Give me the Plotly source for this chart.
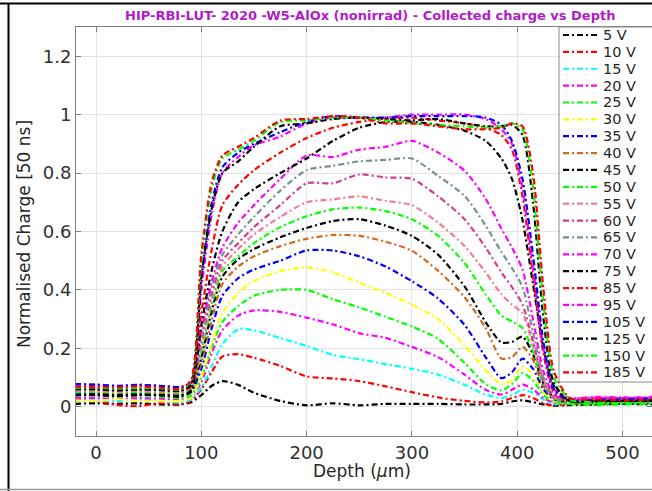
import plotly.graph_objects as go

# Depth positions (um) at which the collected charge was sampled
depth = [-20, 0, 20, 40, 60, 80, 90, 100, 110, 120, 135, 150, 175, 200, 225, 250,
         275, 300, 325, 350, 370, 385, 395, 405, 415, 425, 435, 450, 475, 500, 530]

# Normalised collected charge per bias voltage
q_5V = [0.010, 0.012, 0.010, 0.012, 0.008, 0.008, 0.015, 0.040, 0.072, 0.088, 0.075, 0.048, 0.020, 0.005, 0.012, 0.005,
        0.010, 0.010, 0.010, 0.008, 0.008, 0.010, 0.018, 0.022, 0.016, 0.008, 0.004, 0.006, 0.008, 0.010, 0.008]
q_10V = [0.025, 0.020, 0.006, 0.002, 0.012, 0.010, 0.020, 0.060, 0.120, 0.172, 0.180, 0.168, 0.140, 0.104, 0.097, 0.088,
         0.070, 0.050, 0.032, 0.020, 0.015, 0.018, 0.030, 0.040, 0.030, 0.012, 0.005, 0.010, 0.012, 0.015, 0.012]
q_15V = [0.020, 0.022, 0.020, 0.025, 0.020, 0.015, 0.025, 0.065, 0.140, 0.215, 0.265, 0.262, 0.235, 0.208, 0.178, 0.163,
         0.146, 0.130, 0.110, 0.075, 0.042, 0.030, 0.040, 0.058, 0.048, 0.025, 0.010, 0.012, 0.015, 0.016, 0.015]
q_20V = [0.030, 0.030, 0.026, 0.030, 0.028, 0.025, 0.032, 0.085, 0.185, 0.262, 0.312, 0.330, 0.325, 0.305, 0.282, 0.252,
         0.236, 0.205, 0.170, 0.110, 0.058, 0.042, 0.058, 0.076, 0.060, 0.030, 0.014, 0.018, 0.024, 0.026, 0.024]
q_25V = [0.040, 0.040, 0.035, 0.040, 0.035, 0.030, 0.038, 0.100, 0.205, 0.290, 0.345, 0.380, 0.400, 0.400, 0.368, 0.340,
         0.308, 0.275, 0.232, 0.150, 0.078, 0.056, 0.078, 0.115, 0.090, 0.040, 0.016, 0.010, 0.006, 0.008, 0.012]
q_30V = [0.022, 0.020, 0.026, 0.020, 0.020, 0.020, 0.030, 0.100, 0.220, 0.320, 0.390, 0.430, 0.465, 0.477, 0.460, 0.425,
         0.390, 0.350, 0.300, 0.210, 0.125, 0.078, 0.092, 0.138, 0.110, 0.050, 0.020, 0.015, 0.016, 0.020, 0.020]
q_35V = [0.045, 0.046, 0.040, 0.045, 0.042, 0.040, 0.050, 0.130, 0.270, 0.380, 0.440, 0.470, 0.500, 0.535, 0.535, 0.515,
         0.480, 0.430, 0.370, 0.280, 0.170, 0.098, 0.118, 0.165, 0.130, 0.060, 0.025, 0.020, 0.020, 0.022, 0.025]
q_40V = [0.050, 0.050, 0.046, 0.050, 0.046, 0.045, 0.056, 0.150, 0.300, 0.420, 0.480, 0.515, 0.550, 0.575, 0.588, 0.585,
         0.565, 0.534, 0.465, 0.375, 0.270, 0.165, 0.170, 0.205, 0.160, 0.070, 0.028, 0.022, 0.026, 0.030, 0.028]
q_45V = [0.040, 0.040, 0.036, 0.040, 0.040, 0.035, 0.050, 0.170, 0.330, 0.445, 0.505, 0.540, 0.580, 0.612, 0.636, 0.642,
         0.620, 0.585, 0.520, 0.412, 0.290, 0.220, 0.222, 0.240, 0.180, 0.080, 0.030, 0.015, 0.020, 0.020, 0.020]
q_50V = [0.050, 0.052, 0.048, 0.050, 0.050, 0.045, 0.060, 0.190, 0.350, 0.465, 0.515, 0.560, 0.615, 0.652, 0.676, 0.682,
         0.670, 0.642, 0.585, 0.492, 0.385, 0.312, 0.292, 0.270, 0.190, 0.080, 0.030, 0.012, 0.010, 0.014, 0.018]
q_55V = [0.055, 0.055, 0.050, 0.055, 0.052, 0.050, 0.062, 0.210, 0.370, 0.480, 0.540, 0.590, 0.650, 0.700, 0.710, 0.720,
         0.705, 0.690, 0.630, 0.550, 0.460, 0.385, 0.350, 0.320, 0.210, 0.085, 0.030, 0.020, 0.025, 0.025, 0.025]
q_60V = [0.060, 0.060, 0.056, 0.060, 0.058, 0.055, 0.066, 0.225, 0.390, 0.500, 0.560, 0.615, 0.690, 0.765, 0.765, 0.795,
         0.785, 0.780, 0.720, 0.642, 0.545, 0.460, 0.410, 0.350, 0.225, 0.090, 0.032, 0.022, 0.025, 0.028, 0.030]
q_65V = [0.058, 0.060, 0.055, 0.058, 0.058, 0.052, 0.066, 0.240, 0.410, 0.520, 0.590, 0.650, 0.740, 0.810, 0.825, 0.840,
         0.845, 0.850, 0.790, 0.722, 0.620, 0.530, 0.475, 0.410, 0.255, 0.100, 0.035, 0.022, 0.025, 0.028, 0.030]
q_70V = [0.065, 0.066, 0.060, 0.065, 0.064, 0.060, 0.072, 0.260, 0.430, 0.545, 0.630, 0.690, 0.780, 0.860, 0.855, 0.880,
         0.890, 0.910, 0.870, 0.808, 0.712, 0.610, 0.545, 0.470, 0.300, 0.120, 0.040, 0.028, 0.034, 0.032, 0.030]
q_75V = [0.040, 0.042, 0.040, 0.042, 0.040, 0.038, 0.055, 0.280, 0.470, 0.600, 0.700, 0.745, 0.800, 0.850, 0.910, 0.955,
         0.975, 0.975, 0.965, 0.945, 0.910, 0.850, 0.780, 0.640, 0.420, 0.200, 0.070, 0.020, 0.020, 0.022, 0.020]
q_85V = [0.060, 0.062, 0.058, 0.060, 0.060, 0.055, 0.070, 0.320, 0.540, 0.690, 0.760, 0.810, 0.870, 0.920, 0.955, 0.975,
         0.985, 0.990, 0.980, 0.970, 0.955, 0.930, 0.880, 0.720, 0.450, 0.180, 0.050, 0.020, 0.020, 0.025, 0.025]
q_95V = [0.075, 0.075, 0.070, 0.075, 0.072, 0.068, 0.080, 0.400, 0.660, 0.800, 0.855, 0.895, 0.925, 0.970, 0.990, 0.988,
         0.990, 1.000, 1.000, 1.000, 0.985, 0.950, 0.900, 0.750, 0.480, 0.200, 0.060, 0.030, 0.032, 0.030, 0.034]
q_105V = [0.078, 0.076, 0.072, 0.075, 0.072, 0.068, 0.082, 0.440, 0.700, 0.820, 0.870, 0.900, 0.940, 0.975, 0.995, 0.990,
          0.990, 0.995, 0.995, 0.995, 0.990, 0.965, 0.910, 0.780, 0.520, 0.220, 0.060, 0.022, 0.025, 0.025, 0.028]
q_125V = [0.060, 0.060, 0.056, 0.060, 0.058, 0.055, 0.075, 0.440, 0.680, 0.800, 0.840, 0.890, 0.960, 0.970, 0.985, 0.990,
          0.985, 0.980, 0.985, 0.970, 0.960, 0.960, 0.965, 0.930, 0.700, 0.300, 0.080, 0.020, 0.018, 0.020, 0.022]
q_150V = [0.065, 0.066, 0.062, 0.065, 0.064, 0.060, 0.085, 0.500, 0.750, 0.850, 0.880, 0.910, 0.975, 0.980, 0.990, 0.990,
          0.980, 0.970, 0.965, 0.960, 0.955, 0.960, 0.970, 0.950, 0.750, 0.350, 0.100, 0.025, 0.015, 0.012, 0.010]
q_185V = [0.068, 0.068, 0.066, 0.070, 0.066, 0.062, 0.090, 0.520, 0.770, 0.860, 0.890, 0.920, 0.980, 0.985, 0.995, 0.990,
          0.970, 0.970, 0.960, 0.950, 0.950, 0.955, 0.970, 0.960, 0.800, 0.400, 0.120, 0.030, 0.026, 0.022, 0.025]

labels = ["5 V", "10 V", "15 V", "20 V", "25 V", "30 V", "35 V", "40 V", "45 V", "50 V", "55 V",
          "60 V", "65 V", "70 V", "75 V", "85 V", "95 V", "105 V", "125 V", "150 V", "185 V"]
colors = ["#000000", "#FF0000", "#00FFFF", "#FF00FF", "#00FF00", "#FFFF00", "#0000FF", "#D2691E",
          "#000000", "#00FF00", "#EE7D95", "#D63E8A", "#7A9090", "#FF00FF", "#000000", "#FF0000",
          "#FF00FF", "#0000FF", "#000000", "#00FF00", "#FF0000"]
series = [q_5V, q_10V, q_15V, q_20V, q_25V, q_30V, q_35V, q_40V, q_45V, q_50V, q_55V,
          q_60V, q_65V, q_70V, q_75V, q_85V, q_95V, q_105V, q_125V, q_150V, q_185V]

x_ticks = [0, 100, 200, 300, 400, 500]
y_ticks = [0, 0.2, 0.4, 0.6, 0.8, 1.0, 1.2]
y_tick_text = ["0", "0.2", "0.4", "0.6", "0.8", "1", "1.2"]

DASH = "6px,3px,2px,3px"
FONT = "DejaVu Sans"

# plot-area geometry in pixels
W, H = 652, 491
L, R, T, B = 76, 0, 27, 55
PW, PH = W - L - R, H - T - B


def px(xp):
    return (xp - L) / PW


def py(yp):
    return (H - B - yp) / PH


fig = go.Figure()
for name, col, vals in zip(labels, colors, series):
    fig.add_trace(go.Scatter(
        x=depth, y=vals, name=name, mode="lines",
        line=dict(color=col, width=2.2, dash=DASH, shape="spline", smoothing=0.7),
        showlegend=False,
    ))

shapes = []
annotations = []

# legend box and entries
shapes.append(dict(type="rect", xref="paper", yref="paper",
                   x0=px(559), x1=px(700), y0=py(382), y1=py(27),
                   fillcolor="white", line=dict(color="#8a8a8a", width=1), layer="above"))
step = 16.87
for i, (name, col) in enumerate(zip(labels, colors)):
    yy = py(35 + step * i)
    shapes.append(dict(type="line", xref="paper", yref="paper",
                       x0=px(563), x1=px(600), y0=yy, y1=yy,
                       line=dict(color=col, width=2.2, dash=DASH), layer="above"))
    annotations.append(dict(text=name, xref="paper", yref="paper", x=px(602), y=yy,
                            xanchor="left", yanchor="middle", showarrow=False, borderpad=0,
                            font=dict(family=FONT, size=14.5, color="#262626")))

# axis titles
annotations.append(dict(text="Normalised Charge [50 ns]", xref="paper", yref="paper",
                        x=px(24), y=py(234), textangle=-90, showarrow=False,
                        xanchor="center", yanchor="middle",
                        font=dict(family=FONT, size=17, color="#262626")))
annotations.append(dict(text="Depth (<i>\u03bc</i>m)", xref="paper", yref="paper",
                        x=px(362), y=py(471), showarrow=False,
                        xanchor="center", yanchor="middle",
                        font=dict(family=FONT, size=17, color="#262626")))
# title
annotations.append(dict(text="<b>HIP-RBI-LUT- 2020 -W5-AlOx (nonirrad) - Collected charge vs Depth</b>",
                        xref="paper", yref="paper", x=px(370), y=py(15), showarrow=False,
                        xanchor="center", yanchor="middle",
                        font=dict(family=FONT, size=13, color="#B01CC8")))

# figure frame
shapes.append(dict(type="line", xref="paper", yref="paper", x0=px(8.5), x1=px(8.5),
                   y0=py(3), y1=py(491), line=dict(color="black", width=2), layer="above"))
shapes.append(dict(type="line", xref="paper", yref="paper", x0=px(0), x1=px(652),
                   y0=py(3.5), y1=py(3.5), line=dict(color="black", width=2), layer="above"))
shapes.append(dict(type="line", xref="paper", yref="paper", x0=px(0), x1=px(652),
                   y0=py(489.5), y1=py(489.5), line=dict(color="#9a9a9a", width=1.5), layer="above"))

axis_common = dict(showline=True, linecolor="#808080", linewidth=1, mirror="allticks",
                   ticks="inside", ticklen=5, tickcolor="#808080",
                   showgrid=True, gridcolor="#e3e3e3", gridwidth=1, zeroline=False,
                   tickfont=dict(family=FONT, size=18, color="#303030"))

fig.update_layout(
    width=W, height=H,
    margin=dict(l=L, r=R, t=T, b=B),
    paper_bgcolor="white", plot_bgcolor="white",
    showlegend=False,
    xaxis=dict(range=[-19, 528], tickvals=x_ticks, **axis_common),
    yaxis=dict(range=[-0.1, 1.3], tickvals=y_ticks, ticktext=y_tick_text, **axis_common),
    shapes=shapes, annotations=annotations,
)

fig.write_html("out.html")
